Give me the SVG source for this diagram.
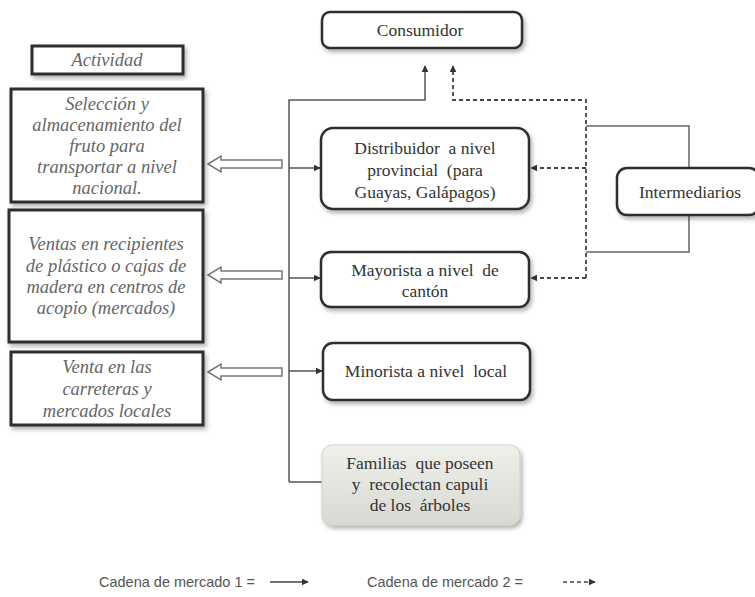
<svg xmlns="http://www.w3.org/2000/svg" width="755" height="597" viewBox="0 0 755 597">
<style>
.box{fill:#fff;stroke:#2e2e2e;stroke-width:2.5}
.act{fill:#fff;stroke:#2e2e2e;stroke-width:3}
.t{font-family:"Liberation Serif",serif;font-size:17.5px;fill:#333;text-anchor:middle;white-space:pre}
.ti{font-family:"Liberation Serif",serif;font-style:italic;font-size:18.5px;fill:#666;text-anchor:middle}
.ln{fill:none;stroke:#555;stroke-width:1.5}
.dl{fill:none;stroke:#444;stroke-width:1.8;stroke-dasharray:4 3}
.br{fill:none;stroke:#666;stroke-width:1.5}
.hol{fill:#fff;stroke:#777;stroke-width:1.5}
.lg{font-family:"Liberation Sans",sans-serif;font-size:14.5px;fill:#555}
</style>
<defs>
<marker id="ah" viewBox="0 0 10 10" refX="9" refY="5" markerWidth="7" markerHeight="7" orient="auto" markerUnits="userSpaceOnUse">
<path d="M0,0 L10,5 L0,10 z" fill="#333"/>
</marker>
<filter id="sh" x="-10%" y="-10%" width="125%" height="135%">
<feDropShadow dx="2" dy="3" stdDeviation="2" flood-color="#000" flood-opacity="0.3"/>
</filter>
<linearGradient id="gf" x1="0" y1="0" x2="0" y2="1">
<stop offset="0" stop-color="#f0f0ea"/>
<stop offset="1" stop-color="#d9d9d3"/>
</linearGradient>
</defs>

<g id="connectors">
<polyline class="ln" points="289,482 289,100 425,100 425,66" marker-end="url(#ah)"/>
<line class="ln" x1="289" y1="168" x2="320" y2="168" marker-end="url(#ah)"/>
<line class="ln" x1="289" y1="278" x2="320" y2="278" marker-end="url(#ah)"/>
<line class="ln" x1="289" y1="371" x2="322" y2="371" marker-end="url(#ah)"/>
<line class="ln" x1="289" y1="482" x2="323" y2="482"/>
<polyline class="dl" points="586,278 586,100 453,100 453,66" marker-end="url(#ah)"/>
<line class="dl" x1="586" y1="168" x2="531" y2="168" marker-end="url(#ah)"/>
<line class="dl" x1="586" y1="278" x2="531" y2="278" marker-end="url(#ah)"/>
<polyline class="br" points="586,126 689,126 689,168"/>
<polyline class="br" points="689,215 689,252 586,252"/>
<path class="hol" d="M208,164 L221,156 L221,160 L282,160 L282,168 L221,168 L221,172 Z"/>
<path class="hol" d="M208,275 L221,267 L221,271 L282,271 L282,279 L221,279 L221,283 Z"/>
<path class="hol" d="M208,372 L221,364 L221,368 L282,368 L282,376 L221,376 L221,380 Z"/>
</g>

<g id="consumidor">
<rect class="box" x="322" y="12" width="200" height="36" rx="8" filter="url(#sh)"/>
<text class="t" x="420" y="36">Consumidor</text>
</g>
<g id="distribuidor">
<rect class="box" x="321" y="128" width="208" height="81" rx="12" filter="url(#sh)"/>
<text class="t" x="425" y="154">Distribuidor  a nivel</text>
<text class="t" x="425" y="176">provincial  (para</text>
<text class="t" x="425" y="198">Guayas, Galápagos)</text>
</g>
<g id="mayorista">
<rect class="box" x="321" y="252" width="208" height="55" rx="10" filter="url(#sh)"/>
<text class="t" x="425" y="276">Mayorista a nivel  de</text>
<text class="t" x="425" y="297">cantón</text>
</g>
<g id="minorista">
<rect class="box" x="323" y="343" width="207" height="57" rx="10" filter="url(#sh)"/>
<text class="t" x="426" y="377">Minorista a nivel  local</text>
</g>
<g id="familias">
<rect x="322" y="445" width="198" height="80" rx="10" fill="url(#gf)" stroke="#d0d0c8" stroke-width="1" filter="url(#sh)"/>
<text class="t" x="420" y="469">Familias  que poseen</text>
<text class="t" x="420" y="490">y  recolectan capuli</text>
<text class="t" x="420" y="511">de los  árboles</text>
</g>
<g id="intermediarios">
<rect class="box" x="617" y="168" width="142" height="47" rx="10" filter="url(#sh)"/>
<text class="t" x="690" y="198">Intermediarios</text>
</g>

<g id="actividad">
<rect class="act" x="32" y="46" width="151" height="28" filter="url(#sh)"/>
<text class="ti" x="107" y="66" font-size="17">Actividad</text>
</g>
<g id="act1">
<rect class="act" x="11" y="89" width="192" height="113" filter="url(#sh)"/>
<text class="ti" x="107" y="110">Selección y</text>
<text class="ti" x="107" y="131">almacenamiento del</text>
<text class="ti" x="107" y="152">fruto para</text>
<text class="ti" x="107" y="173">transportar a nivel</text>
<text class="ti" x="107" y="194">nacional.</text>
</g>
<g id="act2">
<rect class="act" x="9" y="210" width="194" height="132" filter="url(#sh)"/>
<text class="ti" x="106" y="250">Ventas en recipientes</text>
<text class="ti" x="106" y="272">de plástico o cajas de</text>
<text class="ti" x="106" y="293">madera en centros de</text>
<text class="ti" x="106" y="314">acopio (mercados)</text>
</g>
<g id="act3">
<rect class="act" x="11" y="352" width="192" height="73" filter="url(#sh)"/>
<text class="ti" x="107" y="373">Venta en las</text>
<text class="ti" x="107" y="395">carreteras y</text>
<text class="ti" x="107" y="417">mercados locales</text>
</g>

<g id="legend">
<text class="lg" x="99" y="587">Cadena de mercado 1 =</text>
<line x1="270" y1="582" x2="308" y2="582" stroke="#444" stroke-width="1.5" marker-end="url(#ah)"/>
<text class="lg" x="367" y="587">Cadena de mercado 2 =</text>
<line x1="563" y1="582" x2="595" y2="582" stroke="#444" stroke-width="1.5" stroke-dasharray="4 3" marker-end="url(#ah)"/>
</g>
</svg>
